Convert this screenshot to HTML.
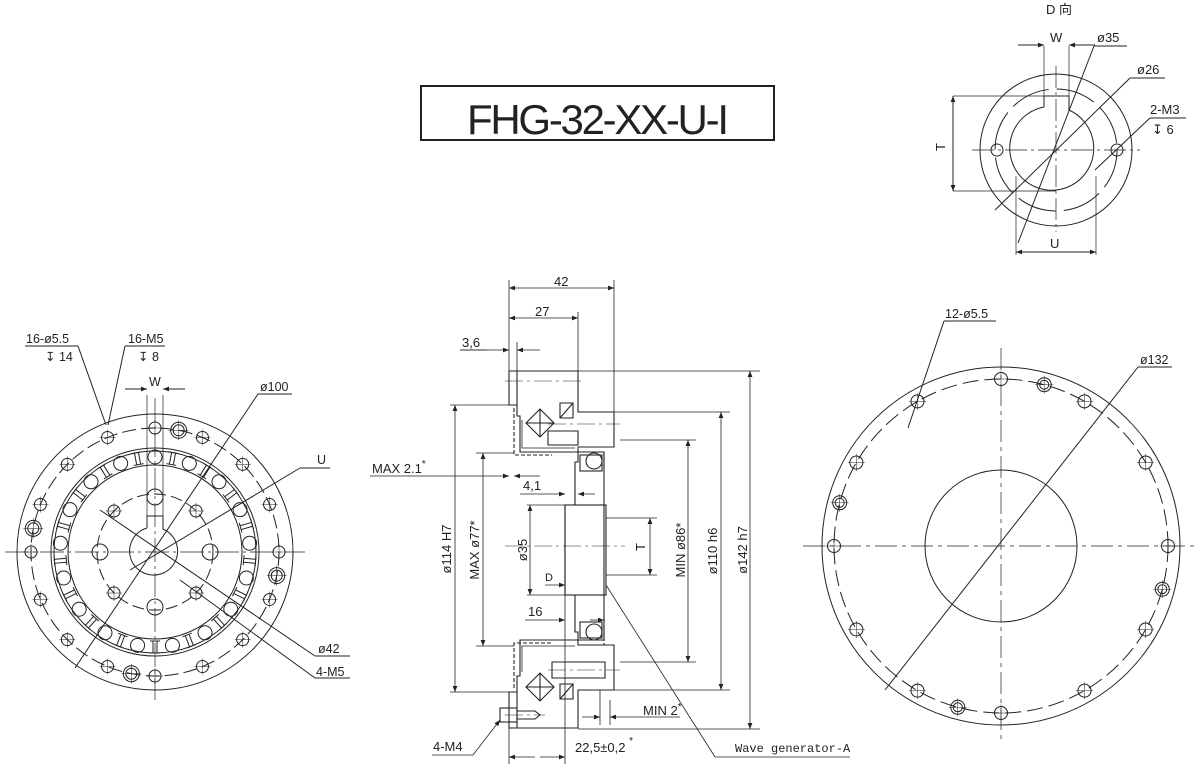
<!DOCTYPE html>
<html><head><meta charset="utf-8"><style>
html,body{margin:0;padding:0;background:#fff;}
svg{display:block;}
text{font-family:"Liberation Sans","Noto Sans CJK SC",sans-serif;fill:#222;}
</style></head><body>
<svg id="s" width="1200" height="764" viewBox="0 0 1200 764" xmlns="http://www.w3.org/2000/svg">
<defs>
<marker id="a" viewBox="0 0 10 10" refX="10" refY="5" markerWidth="8" markerHeight="6" orient="auto-start-reverse" markerUnits="userSpaceOnUse"><path d="M0,1 L10,5 L0,9z" fill="#222"/></marker>
</defs>
<g stroke="#222" fill="none" stroke-width="1">
<!-- Title -->
<rect x="421" y="86" width="353" height="54" stroke-width="2"/>
</g>
<text x="598" y="134" font-size="42" text-anchor="middle" style="font-family:'Liberation Sans',sans-serif" textLength="262">FHG-32-XX-U-I</text>

<!-- D view -->
<g stroke="#222" fill="none" stroke-width="1">
<circle cx="1056" cy="150" r="76"/>
<circle cx="1056" cy="150" r="61" stroke-dasharray="40 8"/>
<path d="M1044,107 L1044,96 L1069,96 L1069,110 A42,42 0 1 1 1044,107"/>
<circle cx="997" cy="150" r="6"/><circle cx="1117" cy="150" r="6"/>
<g stroke-width="0.7" stroke-dasharray="22 4 3 4"><line x1="972" y1="150" x2="1140" y2="150"/><line x1="1056" y1="66" x2="1056" y2="232"/></g>
<line x1="1044" y1="46" x2="1044" y2="96" stroke-width="0.7"/><line x1="1069" y1="46" x2="1069" y2="96" stroke-width="0.7"/>
<line x1="1018" y1="45" x2="1044" y2="45" marker-end="url(#a)"/><line x1="1095" y1="45" x2="1069" y2="45" marker-end="url(#a)"/>
<line x1="953" y1="96" x2="1044" y2="96" stroke-width="0.7"/><line x1="953" y1="191" x2="1056" y2="191" stroke-width="0.7"/>
<line x1="953" y1="143" x2="953" y2="96" marker-end="url(#a)"/><line x1="953" y1="143" x2="953" y2="191" marker-end="url(#a)"/>
<line x1="1016" y1="176" x2="1016" y2="255" stroke-width="0.7"/><line x1="1096" y1="176" x2="1096" y2="255" stroke-width="0.7"/>
<line x1="1056" y1="252" x2="1016" y2="252" marker-end="url(#a)"/><line x1="1056" y1="252" x2="1096" y2="252" marker-end="url(#a)"/>
<line x1="1018" y1="243" x2="1094" y2="46"/><line x1="1094" y1="46" x2="1127" y2="46"/>
<line x1="995" y1="210" x2="1130" y2="78"/><line x1="1130" y1="78" x2="1165" y2="78"/>
<line x1="1095" y1="170" x2="1150" y2="118"/><line x1="1150" y1="118" x2="1186" y2="118"/>
</g>
<g font-size="13"><text x="1046" y="14">D 向</text><text x="1050" y="42">W</text><text x="1097" y="42">ø35</text><text x="1137" y="74">ø26</text><text x="1150" y="114">2-M3</text><text x="1152" y="134">↧ 6</text><text x="1050" y="248">U</text>
<text x="945" y="147" transform="rotate(-90 945 147)" text-anchor="middle">T</text></g>

<!-- Left view -->
<g stroke="#222" fill="none" stroke-width="1" id="L">
<circle cx="155" cy="552" r="138"/>
<circle cx="155" cy="552" r="124" stroke-dasharray="14 5"/>
<circle cx="155" cy="552" r="104"/><circle cx="155" cy="552" r="101"/>
<circle cx="155" cy="552" r="87"/>
<circle cx="155" cy="552" r="58" stroke-dasharray="12 5"/>
<path d="M147,528 L147,516 L163,516 L163,529 A24,24 0 1 1 147,528"/>
<g stroke-width="0.7" stroke-dasharray="24 4 3 4"><line x1="5" y1="552" x2="305" y2="552"/><line x1="155" y1="398" x2="155" y2="700"/></g>
<line x1="147" y1="395" x2="147" y2="516" stroke-width="0.7"/><line x1="163" y1="395" x2="163" y2="516" stroke-width="0.7"/>
<line x1="125" y1="389" x2="147" y2="389" marker-end="url(#a)"/><line x1="185" y1="389" x2="163" y2="389" marker-end="url(#a)"/>
<line x1="75" y1="668" x2="258" y2="394"/><line x1="258" y1="394" x2="292" y2="394"/>
<line x1="130" y1="570" x2="300" y2="468"/><line x1="300" y1="468" x2="330" y2="468"/>
<line x1="100" y1="510" x2="315" y2="656"/><line x1="315" y1="656" x2="350" y2="656"/>
<line x1="180" y1="580" x2="315" y2="678"/><line x1="315" y1="678" x2="350" y2="678"/>
<line x1="25" y1="346" x2="78" y2="346"/><line x1="78" y1="346" x2="106" y2="425"/>
<line x1="125" y1="346" x2="165" y2="346"/><line x1="125" y1="346" x2="108" y2="425"/>
</g>
<g font-size="12.5"><text x="26" y="343">16-ø5.5</text><text x="45" y="361">↧ 14</text><text x="128" y="343">16-M5</text><text x="138" y="361">↧ 8</text><text x="149" y="386">W</text><text x="260" y="391">ø100</text><text x="317" y="464">U</text><text x="318" y="653">ø42</text><text x="316" y="676">4-M5</text></g>

<!-- Right view -->
<g stroke="#222" fill="none" stroke-width="1" id="R">
<circle cx="1001" cy="546" r="179"/>
<circle cx="1001" cy="546" r="167" stroke-dasharray="16 6"/>
<circle cx="1001" cy="546" r="76"/>
<g stroke-width="0.7" stroke-dasharray="22 5 4 5"><line x1="803" y1="546" x2="1198" y2="546"/><line x1="1001" y1="348" x2="1001" y2="744"/></g>
<line x1="885" y1="690" x2="1138" y2="367"/><line x1="1138" y1="367" x2="1172" y2="367"/>
<line x1="908" y1="428" x2="944" y2="321"/><line x1="944" y1="321" x2="996" y2="321"/>
</g>
<g font-size="12.5"><text x="945" y="318">12-ø5.5</text><text x="1140" y="364">ø132</text></g>

<!-- Section view -->
<g stroke="#222" fill="none" stroke-width="1.1">
<!-- top -->
<path d="M509,371 L578,371 L578,412 L614,412 L614,447 L578,447 L578,452 L520,452 L520,416 L517,416 L517,405 L509,405 Z"/>
<path d="M517,371 L517,405"/>
<path d="M526,423 L540,409 L554,423 L540,437 Z M526,423 L554,423 M540,409 L540,437"/>
<path d="M560,403 L573,403 L573,418 L560,418 Z M560,418 L573,403"/>
<path d="M548,431 L578,431 L578,445 L548,445 Z" />
<path d="M522,420 L522,448 L575,448" stroke-width="0.8"/>
<path d="M514,408 L514,455 L552,455" stroke-dasharray="4 2"/>
<path d="M604,452 L604,470" stroke-dasharray="4 2"/>
<!-- wave generator -->
<path d="M578,452 L604,452 L604,640 L578,640 L578,632 L575,632 L575,595 L565,595 L565,586 L565,505 L575,505 L575,462 L578,462 Z"/>
<rect x="565" y="505" width="41" height="90"/>
<circle cx="594" cy="461" r="8"/><circle cx="594" cy="632" r="8"/>
<rect x="580" y="455" width="22" height="16"/><rect x="580" y="622" width="22" height="16"/>
<!-- bottom -->
<path d="M509,728 L578,728 L578,690 L614,690 L614,645 L578,645 L578,640 L520,640 L520,676 L517,676 L517,692 L509,692 Z"/>
<path d="M517,692 L517,728"/>
<path d="M526,687 L540,673 L554,687 L540,701 Z M526,687 L554,687 M540,673 L540,701"/>
<path d="M560,684 L573,684 L573,699 L560,699 Z M560,699 L573,684"/>
<path d="M552,662 L605,662 L605,678 L552,678 Z"/>
<path d="M522,672 L522,646 L575,646" stroke-width="0.8"/>
<path d="M514,688 L514,643 L552,643" stroke-dasharray="4 2"/>
<path d="M604,625 L604,645" stroke-dasharray="4 2"/>
<rect x="500" y="708" width="17" height="14"/><path d="M517,711 L535,711 L540,715 L535,719 L517,719"/>
<!-- centerlines -->
<g stroke-width="0.6" stroke-dasharray="18 4 3 4"><line x1="505" y1="546" x2="625" y2="546"/><line x1="505" y1="381" x2="585" y2="381"/><line x1="548" y1="424" x2="620" y2="424"/><line x1="548" y1="670" x2="620" y2="670"/><line x1="505" y1="715" x2="545" y2="715"/></g>
</g>
<g stroke="#222" fill="none" stroke-width="0.8">
<!-- extension lines -->
<line x1="509" y1="280" x2="509" y2="371"/><line x1="614" y1="280" x2="614" y2="412"/><line x1="578" y1="312" x2="578" y2="371"/><line x1="517" y1="342" x2="517" y2="371"/>
<line x1="509" y1="728" x2="509" y2="764"/><line x1="565" y1="595" x2="565" y2="764"/>
<line x1="509" y1="288" x2="614" y2="288" marker-start="url(#a)" marker-end="url(#a)"/>
<line x1="509" y1="318" x2="578" y2="318" marker-start="url(#a)" marker-end="url(#a)"/>
<line x1="460" y1="350" x2="509" y2="350" marker-end="url(#a)"/><line x1="540" y1="350" x2="517" y2="350" marker-end="url(#a)"/>
<line x1="460" y1="350" x2="487" y2="350"/>
<line x1="578" y1="371" x2="760" y2="371"/><line x1="578" y1="729" x2="760" y2="729"/>
<line x1="750" y1="371" x2="750" y2="729" marker-start="url(#a)" marker-end="url(#a)"/>
<line x1="614" y1="412" x2="730" y2="412"/><line x1="614" y1="690" x2="730" y2="690"/>
<line x1="721" y1="412" x2="721" y2="690" marker-start="url(#a)" marker-end="url(#a)"/>
<line x1="620" y1="440" x2="696" y2="440"/><line x1="620" y1="662" x2="696" y2="662"/>
<line x1="688" y1="440" x2="688" y2="662" marker-start="url(#a)" marker-end="url(#a)"/>
<line x1="606" y1="518" x2="657" y2="518"/><line x1="606" y1="575" x2="657" y2="575"/>
<line x1="650" y1="518" x2="650" y2="575" marker-start="url(#a)" marker-end="url(#a)"/>
<line x1="527" y1="505" x2="565" y2="505"/><line x1="527" y1="595" x2="565" y2="595"/>
<line x1="530" y1="505" x2="530" y2="595" marker-start="url(#a)" marker-end="url(#a)"/>
<line x1="476" y1="453" x2="514" y2="453"/><line x1="476" y1="646" x2="514" y2="646"/>
<line x1="483" y1="453" x2="483" y2="646" marker-start="url(#a)" marker-end="url(#a)"/>
<line x1="450" y1="405" x2="509" y2="405"/><line x1="450" y1="692" x2="509" y2="692"/>
<line x1="455" y1="405" x2="455" y2="692" marker-start="url(#a)" marker-end="url(#a)"/>
<line x1="370" y1="476" x2="509" y2="476" marker-end="url(#a)"/><line x1="540" y1="476" x2="514" y2="476" marker-end="url(#a)"/>
<line x1="520" y1="494" x2="565" y2="494" marker-end="url(#a)"/><line x1="595" y1="494" x2="578" y2="494" marker-end="url(#a)"/>
<line x1="525" y1="620" x2="565" y2="620" marker-end="url(#a)"/><line x1="605" y1="620" x2="604" y2="620"/>
<line x1="590" y1="620" x2="604" y2="620" marker-end="url(#a)"/>
<line x1="545" y1="585" x2="565" y2="585" marker-end="url(#a)"/>
<line x1="600" y1="690" x2="600" y2="725"/><line x1="610" y1="700" x2="610" y2="725"/>
<line x1="582" y1="717" x2="600" y2="717" marker-end="url(#a)"/><line x1="680" y1="717" x2="610" y2="717" marker-end="url(#a)"/>
<line x1="535" y1="757" x2="509" y2="757" marker-end="url(#a)"/><line x1="540" y1="757" x2="565" y2="757" marker-end="url(#a)"/>
<line x1="432" y1="755" x2="473" y2="755"/><line x1="473" y1="755" x2="500" y2="720" marker-end="url(#a)"/>
<line x1="606" y1="585" x2="715" y2="757"/><line x1="715" y1="757" x2="850" y2="757"/>
</g>
<g font-size="13">
<text x="554" y="286">42</text><text x="535" y="316">27</text><text x="462" y="347">3,6</text>
<text x="372" y="473">MAX 2.1<tspan dy="-6" font-size="10">*</tspan></text>
<text x="523" y="490">4,1</text><text x="545" y="581" font-size="11">D</text><text x="528" y="616">16</text>
<text x="643" y="715">MIN 2<tspan dy="-5" font-size="10">*</tspan></text>
<text x="575" y="752">22,5±0,2 <tspan dy="-8" font-size="10">*</tspan></text>
<text x="433" y="751">4-M4</text>
<text x="735" y="752" font-size="12" style="font-family:'Liberation Mono',monospace">Wave generator-A</text>
<text transform="translate(747 550) rotate(-90)" text-anchor="middle">ø142 h7</text>
<text transform="translate(717 551) rotate(-90)" text-anchor="middle">ø110 h6</text>
<text transform="translate(685 550) rotate(-90)" text-anchor="middle">MIN ø86*</text>
<text transform="translate(645 547) rotate(-90)" text-anchor="middle">T</text>
<text transform="translate(527 550) rotate(-90)" text-anchor="middle">ø35</text>
<text transform="translate(479 550) rotate(-90)" text-anchor="middle">MAX ø77*</text>
<text transform="translate(451 549) rotate(-90)" text-anchor="middle">ø114 H7</text>
</g>
</svg>
<script>
var NS="http://www.w3.org/2000/svg";
function el(p,t,a){var e=document.createElementNS(NS,t);for(var k in a)e.setAttribute(k,a[k]);p.appendChild(e);return e;}
function hole(g,x,y,r,big){el(g,"circle",{cx:x,cy:y,r:r});if(big){el(g,"circle",{cx:x,cy:y,r:r-2.5});}
 el(g,"line",{x1:x-r-2,y1:y,x2:x+r+2,y2:y,"stroke-width":0.5});el(g,"line",{x1:x,y1:y-r-2,x2:x,y2:y+r+2,"stroke-width":0.5});}
var L=document.getElementById("L"),R=document.getElementById("R");
var i,a;
for(i=0;i<16;i++){a=i*22.5*Math.PI/180;hole(L,155+124*Math.sin(a),552-124*Math.cos(a),6,false);}
[11,101,191,281].forEach(function(d){a=d*Math.PI/180;hole(L,155+124*Math.sin(a),552-124*Math.cos(a),8,true);});
for(i=0;i<34;i++){a=i*(360/34)*Math.PI/180;var x=155+95*Math.sin(a),y=552-95*Math.cos(a);
 if(i%2==0)el(L,"circle",{cx:x,cy:y,r:7});else{var g=el(L,"g",{transform:"translate("+x+" "+y+") rotate("+(i*360/34)+")"});el(g,"path",{d:"M-5,-6 L5,-6 M-5,6 L5,6 M-2,-6 L-2,6 M2,-6 L2,6"});}}
[[155,497],[155,607],[100,552],[210,552]].forEach(function(p){el(L,"circle",{cx:p[0],cy:p[1],r:8});});
for(i=0;i<4;i++){a=(45+i*90)*Math.PI/180;hole(L,155+58*Math.sin(a),552-58*Math.cos(a),6,false);}
for(i=0;i<12;i++){a=i*30*Math.PI/180;hole(R,1001+167*Math.sin(a),546-167*Math.cos(a),6.5,false);}
[15,105,195,285].forEach(function(d){a=d*Math.PI/180;hole(R,1001+167*Math.sin(a),546-167*Math.cos(a),7,true);});
</script>
</body></html>
